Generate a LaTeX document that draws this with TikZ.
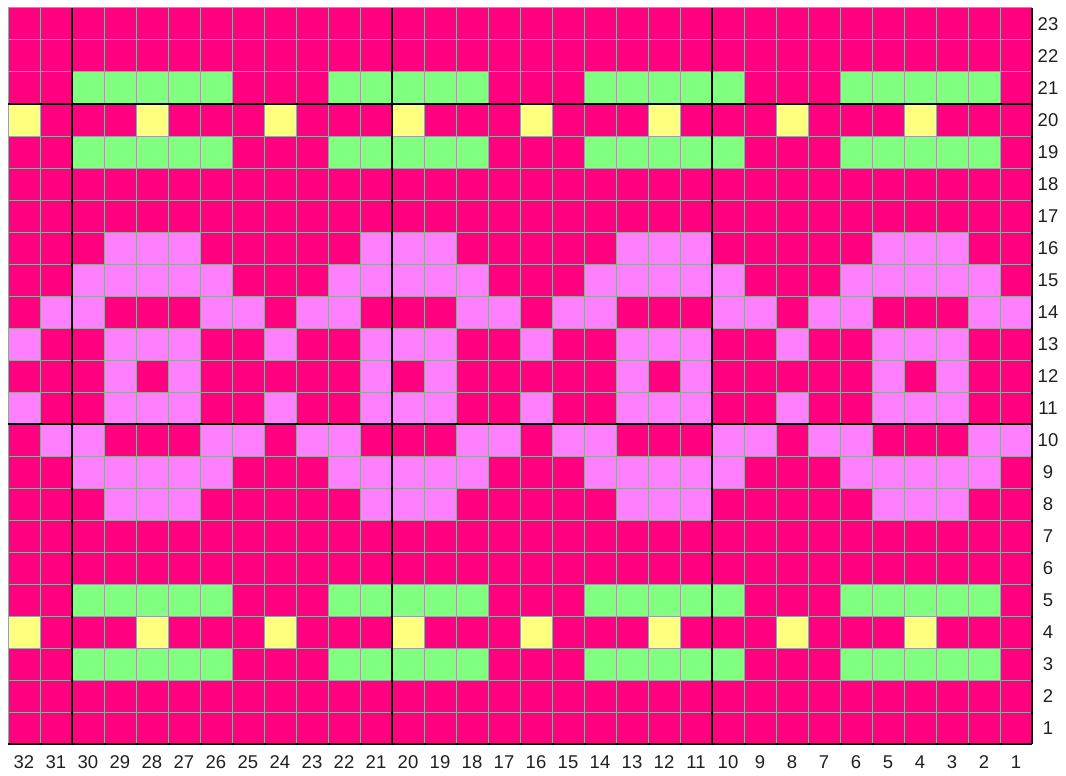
\documentclass[tikz,border=0pt]{standalone}
\usepackage{fontspec}
\setmainfont{Liberation Sans}
\definecolor{mg}{HTML}{FF0080}
\definecolor{gn}{HTML}{80FF80}
\definecolor{yl}{HTML}{FFFF80}
\definecolor{pk}{HTML}{FF80FF}
\definecolor{gridgray}{HTML}{A0A0A0}
\definecolor{labtext}{HTML}{202020}
\begin{document}
\begin{tikzpicture}[x=1pt,y=-1pt,
  gridline/.style={draw=gridgray,line width=1pt},
  thickline/.style={draw=black,line width=1.6pt},
  lab/.style={inner sep=0pt,text=labtext,font=\fontsize{18.5}{20}\selectfont}]
\useasboundingbox (0,0) rectangle (1066,776);
\fill[white] (0,0) rectangle (1066,776);
\fill[mg] (8,8) rectangle (1032,744);
\foreach \r/\cl/\col in {
  3/{2,3,4,5,6,10,11,12,13,14,18,19,20,21,22,26,27,28,29,30}/gn,
  5/{2,3,4,5,6,10,11,12,13,14,18,19,20,21,22,26,27,28,29,30}/gn,
  19/{2,3,4,5,6,10,11,12,13,14,18,19,20,21,22,26,27,28,29,30}/gn,
  21/{2,3,4,5,6,10,11,12,13,14,18,19,20,21,22,26,27,28,29,30}/gn,
  4/{4,8,12,16,20,24,28,32}/yl,
  20/{4,8,12,16,20,24,28,32}/yl,
  12/{3,5,11,13,19,21,27,29}/pk,
  11/{3,4,5,8,11,12,13,16,19,20,21,24,27,28,29,32}/pk,
  13/{3,4,5,8,11,12,13,16,19,20,21,24,27,28,29,32}/pk,
  10/{1,2,6,7,9,10,14,15,17,18,22,23,25,26,30,31}/pk,
  14/{1,2,6,7,9,10,14,15,17,18,22,23,25,26,30,31}/pk,
  9/{2,3,4,5,6,10,11,12,13,14,18,19,20,21,22,26,27,28,29,30}/pk,
  15/{2,3,4,5,6,10,11,12,13,14,18,19,20,21,22,26,27,28,29,30}/pk,
  8/{3,4,5,11,12,13,19,20,21,27,28,29}/pk,
  16/{3,4,5,11,12,13,19,20,21,27,28,29}/pk}
  \foreach \c in \cl
    \fill[\col] ({8+(32-\c)*32},{8+(23-\r)*32}) rectangle ++(32,32);
\foreach \i in {0,...,32}
  \draw[gridline] ({8+\i*32},8) -- ({8+\i*32},744);
\foreach \j in {0,...,23}
  \draw[gridline] (8,{8+\j*32}) -- (1032,{8+\j*32});
\foreach \x in {72,392,712,1032}
  \draw[thickline] (\x,8) -- (\x,744);
\foreach \y in {104,424,744}
  \draw[thickline] (8,\y) -- (1032,\y);
\foreach \c in {1,...,32}
  \node[lab] (col\c) at ({8+(32-\c)*32+16},762) {\c};
\foreach \r in {1,...,23}
  \node[lab] (row\r) at (1048,{8+(23-\r)*32+16}) {\r};
\end{tikzpicture}
\end{document}
